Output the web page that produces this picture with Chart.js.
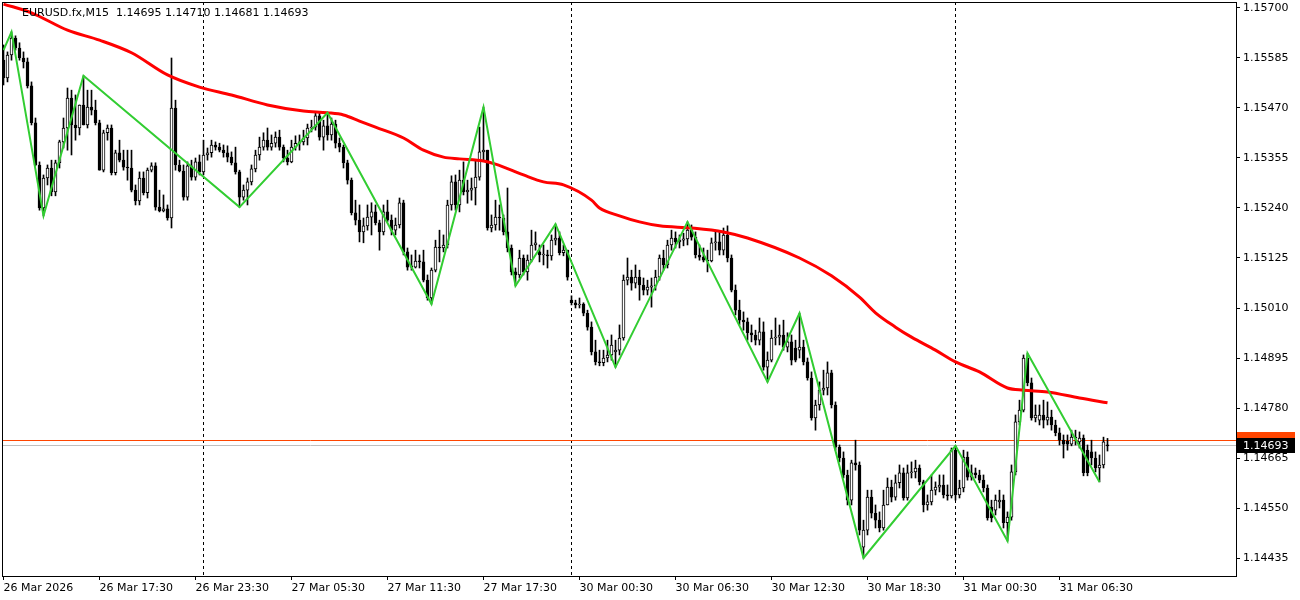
<!DOCTYPE html>
<html>
<head>
<meta charset="utf-8">
<script src="https://cdn.jsdelivr.net/npm/chart.js@4.4.1/dist/chart.umd.min.js"></script>
<style>
  html, body { margin: 0; padding: 0; background: #fff; }
  canvas { display: block; }
</style>
</head>
<body>
<canvas id="chart" width="1300" height="600"></canvas>
<script>
// ============================================================
// EURUSD.fx M15 — candles + moving average + zigzag (MT4 look)
// ============================================================

const titleText = 'EURUSD.fx,M15  1.14695 1.14710 1.14681 1.14693';

// ------ Candles (one per 15 min, index 0 = 26 Mar 11:30) ------
const opens = [
  1.15580,1.15539,1.15592,1.15631,1.15608,1.15585,1.15576,1.15521,1.15436,1.15339,
  1.15240,1.15309,1.15332,1.15277,1.15344,1.15392,1.15424,1.15493,1.15431,1.15424,
  1.15477,1.15431,1.15472,1.15465,1.15436,1.15327,1.15413,1.15424,1.15321,1.15367,
  1.15350,1.15334,1.15332,1.15281,1.15256,1.15309,1.15275,1.15327,1.15337,1.15242,
  1.15233,1.15238,1.15217,1.15470,1.15339,1.15325,1.15265,1.15337,1.15311,1.15346,
  1.15323,1.15362,1.15367,1.15385,1.15380,1.15373,1.15367,1.15357,1.15344,1.15323,
  1.15265,1.15281,1.15300,1.15330,1.15362,1.15380,1.15396,1.15380,1.15389,1.15403,
  1.15380,1.15355,1.15346,1.15380,1.15389,1.15392,1.15401,1.15424,1.15426,1.15452,
  1.15403,1.15429,1.15408,1.15433,1.15389,1.15380,1.15344,1.15304,1.15229,1.15212,
  1.15185,1.15199,1.15219,1.15231,1.15206,1.15185,1.15231,1.15212,1.15189,1.15201,
  1.15252,1.15139,1.15107,1.15104,1.15118,1.15116,1.15074,1.15033,1.15097,1.15150,
  1.15148,1.15155,1.15247,1.15300,1.15247,1.15304,1.15277,1.15281,1.15286,1.15311,
  1.15369,1.15373,1.15194,1.15201,1.15219,1.15217,1.15185,1.15148,1.15093,1.15086,
  1.15125,1.15093,1.15120,1.15155,1.15139,1.15132,1.15132,1.15130,1.15166,1.15171,
  1.15137,1.15143,1.15028,1.15022,1.15017,1.15019,1.14998,1.14966,1.14909,1.14886,
  1.14884,1.14895,1.14902,1.14909,1.14913,1.14941,1.15074,1.15081,1.15067,1.15081,
  1.15063,1.15051,1.15058,1.15061,1.15081,1.15125,1.15109,1.15155,1.15171,1.15162,
  1.15166,1.15169,1.15189,1.15173,1.15132,1.15127,1.15120,1.15118,1.15160,1.15162,
  1.15143,1.15178,1.15125,1.15051,1.15005,1.14982,1.14978,1.14953,1.14948,1.14936,
  1.14955,1.14874,1.14890,1.14941,1.14943,1.14948,1.14920,1.14932,1.14918,1.14913,
  1.14920,1.14886,1.14849,1.14757,1.14787,1.14821,1.14826,1.14861,1.14787,1.14690,
  1.14665,1.14626,1.14568,1.14654,1.14649,1.14460,1.14499,1.14575,1.14538,1.14522,
  1.14504,1.14557,1.14598,1.14575,1.14608,1.14631,1.14573,1.14631,1.14633,1.14642,
  1.14610,1.14557,1.14564,1.14591,1.14598,1.14603,1.14580,1.14578,1.14683,1.14580,
  1.14596,1.14667,1.14621,1.14631,1.14626,1.14614,1.14596,1.14552,1.14545,1.14564,
  1.14568,1.14516,1.14529,1.14633,1.14748,1.14775,1.14895,1.14838,1.14757,1.14752,
  1.14764,1.14752,1.14759,1.14741,1.14723,1.14706,1.14704,1.14697,1.14713,1.14702,
  1.14711,1.14683,1.14679,1.14665,1.14642,1.14649,1.14695
];
const highs = [
  1.15615,1.15599,1.15645,1.15636,1.15620,1.15599,1.15585,1.15530,1.15447,1.15346,
  1.15316,1.15339,1.15350,1.15350,1.15396,1.15447,1.15516,1.15511,1.15500,1.15477,
  1.15544,1.15511,1.15511,1.15488,1.15442,1.15419,1.15431,1.15431,1.15373,1.15396,
  1.15373,1.15373,1.15373,1.15293,1.15323,1.15323,1.15332,1.15344,1.15344,1.15281,
  1.15270,1.15247,1.15585,1.15488,1.15350,1.15339,1.15346,1.15350,1.15355,1.15362,
  1.15396,1.15378,1.15396,1.15392,1.15389,1.15385,1.15383,1.15369,1.15380,1.15327,
  1.15293,1.15309,1.15339,1.15373,1.15403,1.15413,1.15424,1.15408,1.15415,1.15419,
  1.15385,1.15373,1.15396,1.15406,1.15408,1.15419,1.15433,1.15442,1.15459,1.15459,
  1.15442,1.15459,1.15447,1.15442,1.15401,1.15385,1.15350,1.15309,1.15258,1.15247,
  1.15217,1.15247,1.15252,1.15247,1.15212,1.15247,1.15258,1.15224,1.15217,1.15263,
  1.15258,1.15148,1.15132,1.15143,1.15132,1.15143,1.15086,1.15102,1.15166,1.15189,
  1.15178,1.15258,1.15314,1.15316,1.15327,1.15346,1.15304,1.15309,1.15350,1.15426,
  1.15472,1.15373,1.15224,1.15258,1.15247,1.15224,1.15286,1.15155,1.15102,1.15143,
  1.15132,1.15132,1.15189,1.15185,1.15155,1.15155,1.15143,1.15178,1.15203,1.15185,
  1.15155,1.15143,1.15038,1.15028,1.15033,1.15022,1.15005,1.14978,1.14936,1.14913,
  1.14913,1.14936,1.14948,1.14936,1.14971,1.15086,1.15125,1.15097,1.15109,1.15097,
  1.15079,1.15074,1.15079,1.15097,1.15132,1.15143,1.15166,1.15189,1.15185,1.15178,
  1.15182,1.15208,1.15201,1.15185,1.15155,1.15148,1.15143,1.15171,1.15185,1.15185,
  1.15194,1.15199,1.15132,1.15063,1.15028,1.15001,1.14987,1.14971,1.14959,1.14987,
  1.14978,1.14909,1.14959,1.14987,1.14971,1.14982,1.14953,1.14948,1.14936,1.14998,
  1.14936,1.14895,1.14863,1.14798,1.14840,1.14867,1.14886,1.14867,1.14794,1.14695,
  1.14679,1.14637,1.14660,1.14706,1.14656,1.14522,1.14591,1.14591,1.14557,1.14541,
  1.14591,1.14619,1.14614,1.14626,1.14649,1.14642,1.14649,1.14656,1.14660,1.14649,
  1.14614,1.14580,1.14626,1.14610,1.14626,1.14626,1.14603,1.14688,1.14693,1.14614,
  1.14683,1.14679,1.14649,1.14642,1.14637,1.14626,1.14603,1.14568,1.14580,1.14591,
  1.14580,1.14541,1.14649,1.14764,1.14798,1.14902,1.14906,1.14849,1.14787,1.14787,
  1.14798,1.14794,1.14775,1.14752,1.14734,1.14718,1.14718,1.14729,1.14729,1.14725,
  1.14718,1.14695,1.14706,1.14679,1.14672,1.14713,1.14710
];
const lows = [
  1.15523,1.15530,1.15580,1.15603,1.15580,1.15562,1.15516,1.15431,1.15337,1.15235,
  1.15222,1.15293,1.15268,1.15268,1.15332,1.15378,1.15373,1.15362,1.15396,1.15408,
  1.15431,1.15424,1.15454,1.15431,1.15327,1.15323,1.15396,1.15316,1.15316,1.15346,
  1.15327,1.15304,1.15277,1.15247,1.15247,1.15270,1.15263,1.15323,1.15235,1.15231,
  1.15231,1.15212,1.15194,1.15327,1.15323,1.15258,1.15258,1.15304,1.15304,1.15316,
  1.15316,1.15350,1.15357,1.15373,1.15369,1.15357,1.15346,1.15339,1.15318,1.15242,
  1.15258,1.15247,1.15293,1.15323,1.15350,1.15373,1.15373,1.15373,1.15380,1.15373,
  1.15346,1.15339,1.15344,1.15373,1.15373,1.15385,1.15385,1.15415,1.15419,1.15396,
  1.15373,1.15396,1.15396,1.15378,1.15369,1.15332,1.15295,1.15224,1.15201,1.15162,
  1.15160,1.15189,1.15178,1.15201,1.15143,1.15178,1.15208,1.15178,1.15178,1.15194,
  1.15132,1.15097,1.15097,1.15102,1.15102,1.15070,1.15028,1.15019,1.15093,1.15116,
  1.15139,1.15148,1.15235,1.15235,1.15231,1.15270,1.15251,1.15258,1.15247,1.15304,
  1.15350,1.15189,1.15185,1.15189,1.15189,1.15178,1.15139,1.15086,1.15061,1.15079,
  1.15086,1.15074,1.15116,1.15143,1.15116,1.15109,1.15102,1.15120,1.15155,1.15132,
  1.15130,1.15074,1.15017,1.15010,1.15010,1.14992,1.14959,1.14902,1.14879,1.14877,
  1.14877,1.14886,1.14890,1.14874,1.14902,1.14936,1.15063,1.15051,1.15056,1.15028,
  1.15040,1.15040,1.15012,1.15051,1.15074,1.15097,1.15102,1.15143,1.15148,1.15148,
  1.15153,1.15155,1.15166,1.15125,1.15120,1.15116,1.15093,1.15116,1.15143,1.15132,
  1.15132,1.15116,1.15047,1.14994,1.14971,1.14959,1.14936,1.14932,1.14925,1.14925,
  1.14867,1.14840,1.14886,1.14925,1.14925,1.14913,1.14909,1.14879,1.14886,1.14895,
  1.14879,1.14844,1.14752,1.14729,1.14775,1.14810,1.14810,1.14780,1.14683,1.14656,
  1.14619,1.14557,1.14557,1.14637,1.14488,1.14435,1.14488,1.14527,1.14504,1.14495,
  1.14499,1.14557,1.14564,1.14568,1.14596,1.14568,1.14568,1.14619,1.14619,1.14603,
  1.14541,1.14545,1.14557,1.14580,1.14587,1.14573,1.14568,1.14573,1.14568,1.14573,
  1.14587,1.14614,1.14614,1.14619,1.14608,1.14587,1.14522,1.14518,1.14534,1.14550,
  1.14504,1.14474,1.14522,1.14626,1.14741,1.14771,1.14831,1.14752,1.14748,1.14741,
  1.14734,1.14741,1.14729,1.14716,1.14695,1.14665,1.14683,1.14693,1.14695,1.14688,
  1.14624,1.14624,1.14649,1.14633,1.14610,1.14642,1.14681
];
const closes = [
  1.15539,1.15592,1.15631,1.15608,1.15585,1.15576,1.15521,1.15436,1.15339,1.15240,
  1.15309,1.15332,1.15277,1.15344,1.15392,1.15424,1.15493,1.15431,1.15424,1.15477,
  1.15431,1.15472,1.15465,1.15436,1.15327,1.15413,1.15424,1.15321,1.15367,1.15350,
  1.15334,1.15332,1.15281,1.15256,1.15309,1.15275,1.15327,1.15337,1.15242,1.15233,
  1.15238,1.15217,1.15470,1.15339,1.15325,1.15265,1.15337,1.15311,1.15346,1.15323,
  1.15362,1.15367,1.15385,1.15380,1.15373,1.15367,1.15357,1.15344,1.15323,1.15265,
  1.15281,1.15300,1.15330,1.15362,1.15380,1.15396,1.15380,1.15389,1.15403,1.15380,
  1.15355,1.15346,1.15380,1.15389,1.15392,1.15401,1.15424,1.15426,1.15452,1.15403,
  1.15429,1.15408,1.15433,1.15389,1.15380,1.15344,1.15304,1.15229,1.15212,1.15185,
  1.15199,1.15219,1.15231,1.15206,1.15185,1.15231,1.15212,1.15189,1.15201,1.15252,
  1.15139,1.15104,1.15104,1.15118,1.15116,1.15074,1.15033,1.15097,1.15150,1.15148,
  1.15155,1.15247,1.15300,1.15247,1.15304,1.15277,1.15281,1.15286,1.15311,1.15369,
  1.15373,1.15194,1.15201,1.15219,1.15217,1.15185,1.15148,1.15093,1.15086,1.15125,
  1.15093,1.15120,1.15155,1.15160,1.15132,1.15132,1.15130,1.15166,1.15171,1.15137,
  1.15143,1.15081,1.15022,1.15017,1.15019,1.14998,1.14966,1.14909,1.14886,1.14884,
  1.14895,1.14902,1.14925,1.14913,1.14941,1.15074,1.15081,1.15067,1.15081,1.15063,
  1.15051,1.15058,1.15061,1.15081,1.15125,1.15109,1.15155,1.15171,1.15162,1.15166,
  1.15169,1.15189,1.15173,1.15132,1.15127,1.15120,1.15118,1.15160,1.15162,1.15143,
  1.15178,1.15125,1.15051,1.15005,1.14982,1.14978,1.14953,1.14948,1.14936,1.14955,
  1.14874,1.14890,1.14941,1.14943,1.14948,1.14920,1.14932,1.14890,1.14890,1.14920,
  1.14886,1.14849,1.14757,1.14787,1.14821,1.14826,1.14861,1.14787,1.14690,1.14665,
  1.14626,1.14568,1.14654,1.14649,1.14499,1.14499,1.14575,1.14538,1.14522,1.14504,
  1.14557,1.14598,1.14575,1.14608,1.14631,1.14573,1.14631,1.14633,1.14642,1.14610,
  1.14557,1.14564,1.14591,1.14598,1.14603,1.14580,1.14578,1.14683,1.14580,1.14596,
  1.14667,1.14621,1.14631,1.14626,1.14614,1.14596,1.14527,1.14527,1.14568,1.14568,
  1.14516,1.14529,1.14633,1.14748,1.14775,1.14895,1.14838,1.14757,1.14764,1.14764,
  1.14752,1.14759,1.14741,1.14723,1.14706,1.14697,1.14697,1.14713,1.14711,1.14711,
  1.14631,1.14631,1.14665,1.14642,1.14649,1.14702,1.14693
];

// ------ Moving average (red) ------
const maIdx = [0,7,16,24,32,41,49,57,66,75,81,85,89,93,100,105,110,114,120,123,130,135,140,
               147,149,154,159,164,172,180,186,199,207,214,218,223,227,233,238,244,251,255,261,269,276];
const maVal = [1.15709,1.15689,1.15649,1.15626,1.15597,1.15546,1.15518,1.15500,1.15477,1.15463,
               1.15459,1.15454,1.15440,1.15426,1.15401,1.15373,1.15357,1.15353,1.15348,1.15341,
               1.15316,1.15300,1.15293,1.15258,1.15240,1.15222,1.15208,1.15199,1.15194,1.15185,
               1.15171,1.15125,1.15084,1.15035,1.14999,1.14966,1.14943,1.14913,1.14886,1.14863,
               1.14826,1.14821,1.14817,1.14803,1.14792];

// ------ ZigZag (green) ------
const zzIdx = [0,2,10,20,59,81,107,120,128,138,153,171,191,199,215,238,251,256,274];
const zzVal = [1.15603,1.15645,1.15222,1.15544,1.15242,1.15459,1.15019,1.15472,1.15061,1.15203,
               1.14874,1.15208,1.14840,1.14998,1.14435,1.14693,1.14474,1.14906,1.14610];

// ------ Axes ------
const timeTickIdx    = [0,24,48,72,96,120,144,168,192,216,240,264];
const timeTickLabels = ['26 Mar 2026','26 Mar 17:30','26 Mar 23:30','27 Mar 05:30','27 Mar 11:30','27 Mar 17:30',
                        '30 Mar 00:30','30 Mar 06:30','30 Mar 12:30','30 Mar 18:30','31 Mar 00:30','31 Mar 06:30'];
const priceTicks = [1.14435,1.14550,1.14665,1.14780,1.14895,1.15010,1.15125,1.15240,1.15355,1.15470,1.15585,1.15700];
const daySepIdx  = [50,142,238];
const askPrice   = 1.14706;
const bidPrice   = 1.14693;

const FONT = { family: 'DejaVu Sans', size: 11 };

// ------ Overlay: separators, price lines, frame, title, price tags ------
const mtOverlay = {
  id: 'mtOverlay',
  beforeDatasetsDraw(chart) {
    const { ctx, chartArea: a, scales: { x, y } } = chart;
    ctx.save();
    ctx.lineWidth = 1;
    ctx.strokeStyle = '#000';
    ctx.setLineDash([3, 3]);
    daySepIdx.forEach(i => {
      const px = Math.floor(x.getPixelForValue(i)) + 0.5;
      ctx.beginPath(); ctx.moveTo(px, a.top); ctx.lineTo(px, a.bottom); ctx.stroke();
    });
    ctx.setLineDash([]);
    const ay = Math.floor(y.getPixelForValue(askPrice)) + 0.5;
    const by = Math.floor(y.getPixelForValue(bidPrice)) + 0.5;
    ctx.strokeStyle = '#c0c0c0';
    ctx.beginPath(); ctx.moveTo(a.left, by); ctx.lineTo(a.right, by); ctx.stroke();
    ctx.strokeStyle = '#ff4500';
    ctx.beginPath(); ctx.moveTo(a.left, ay); ctx.lineTo(a.right, ay); ctx.stroke();
    ctx.restore();
  },
  afterDraw(chart) {
    const { ctx, chartArea: a, scales: { y } } = chart;
    ctx.save();
    ctx.strokeStyle = '#000';
    ctx.lineWidth = 1;
    ctx.strokeRect(a.left + 0.5, a.top + 0.5, a.right - a.left, a.bottom - a.top);

    ctx.font = `${FONT.size}px "${FONT.family}"`;
    ctx.textBaseline = 'middle';
    ctx.fillStyle = '#000';
    ctx.fillText(titleText, 22, 13);

    const ay = y.getPixelForValue(askPrice);
    const by = y.getPixelForValue(bidPrice);
    ctx.fillStyle = '#ff4500';
    ctx.fillRect(a.right + 1, Math.round(ay) - 8, 58, 15);
    ctx.fillStyle = '#000';
    ctx.fillRect(a.right + 1, Math.round(by) - 8, 58, 15);
    ctx.fillStyle = '#fff';
    ctx.fillText(bidPrice.toFixed(5), a.right + 7, Math.round(by));
    ctx.restore();
  }
};

const wickData = highs.map((h, i) => ({ x: i, y: [lows[i], h] }));
const bodyData = opens.map((o, i) => ({ x: i, y: [o, closes[i]] }));
const bodyFill = opens.map((o, i) => closes[i] >= o ? '#ffffff' : '#000000');

new Chart(document.getElementById('chart'), {
  data: {
    datasets: [
      { type: 'line', data: zzIdx.map((v, i) => ({ x: v, y: zzVal[i] })),
        borderColor: '#32cd32', borderWidth: 2, pointRadius: 0, tension: 0, order: 0 },
      { type: 'line', data: maIdx.map((v, i) => ({ x: v, y: maVal[i] })),
        borderColor: '#ff0000', borderWidth: 3, pointRadius: 0, cubicInterpolationMode: 'monotone', order: 1 },
      { type: 'bar', data: bodyData, barThickness: 3, backgroundColor: bodyFill,
        borderColor: '#000', borderWidth: 1, borderSkipped: false, minBarLength: 1, grouped: false, order: 2 },
      { type: 'bar', data: wickData, barThickness: 1, backgroundColor: '#000',
        borderWidth: 0, grouped: false, order: 3 }
    ]
  },
  options: {
    responsive: false,
    devicePixelRatio: 1,
    animation: false,
    events: [],
    layout: { padding: { left: 2, top: 2, right: 0, bottom: 0 } },
    plugins: { legend: { display: false }, tooltip: { enabled: false } },
    scales: {
      x: {
        type: 'linear', position: 'bottom', min: -0.375, max: 308.125, offset: false,
        afterBuildTicks: s => { s.ticks = timeTickIdx.map(v => ({ value: v })); },
        afterFit: s => { s.height = 24; s.paddingLeft = 0; s.paddingRight = 0; },
        grid: { offset: false, drawOnChartArea: false, drawTicks: true, tickLength: 4, color: '#000' },
        border: { display: false },
        ticks: { autoSkip: false, maxRotation: 0, align: 'start', padding: 2, color: '#000', font: FONT,
                 callback: v => timeTickLabels[timeTickIdx.indexOf(v)] ?? '' }
      },
      y: {
        position: 'right', min: 1.143936, max: 1.157138,
        afterBuildTicks: s => { s.ticks = priceTicks.map(v => ({ value: v })); },
        afterFit: s => { s.width = 64; s.paddingTop = 0; s.paddingBottom = 0; },
        grid: { drawOnChartArea: false, drawTicks: true, tickLength: 4, color: '#000' },
        border: { display: false },
        ticks: { padding: 3, color: '#000', font: FONT, callback: v => v.toFixed(5) }
      }
    }
  },
  plugins: [mtOverlay]
});
</script>
</body>
</html>
